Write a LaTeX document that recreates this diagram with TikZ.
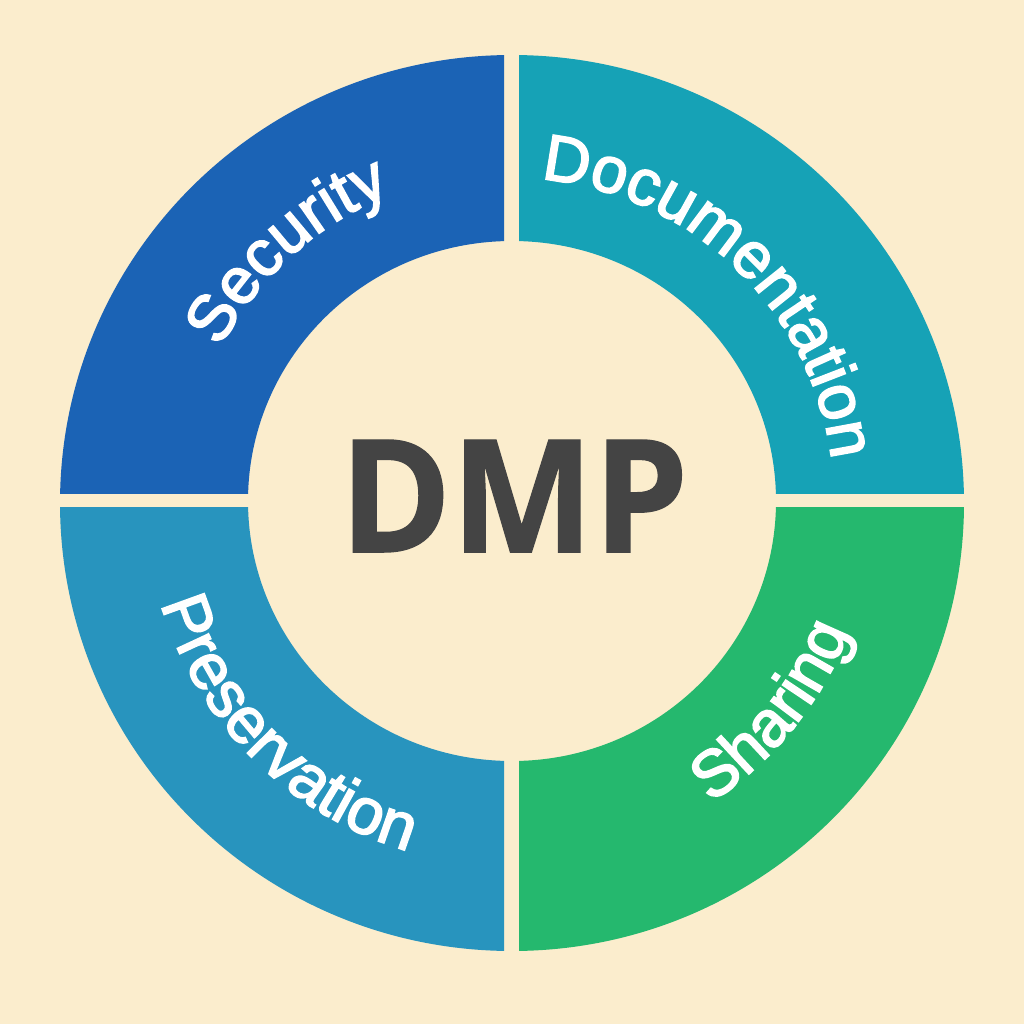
\documentclass[tikz,border=0pt]{standalone}
\usepackage{fontspec}
\setmainfont{Open Sans}
\newfontfamily\dmpfont{Open Sans}[BoldFeatures={FakeBold=0.9}]
\newfontfamily\labfont{Liberation Sans}[FakeBold=2.6]
\usetikzlibrary{decorations.text}
\definecolor{bgc}{HTML}{FBEDCD}
\definecolor{secc}{HTML}{1B63B5}
\definecolor{docc}{HTML}{16A2B6}
\definecolor{shac}{HTML}{25B86E}
\definecolor{prec}{HTML}{2894BE}
\definecolor{txtc}{HTML}{444444}
\newcommand{\ringshape}{(512,-503) ellipse [x radius=452,y radius=448] (512,-501) ellipse [x radius=264,y radius=260]}
\newcommand{\lab}{\labfont\fontsize{65}{65}\selectfont\color{white}}
\tikzset{x=1pt,y=1pt,
 lbl/.style={decorate,decoration={text along path,text align=center,text={|\lab|#1}}}}
\begin{document}
\begin{tikzpicture}
\fill[bgc] (0,0) rectangle (1024,-1024);
\useasboundingbox (0,0) rectangle (1024,-1024);
\begin{scope}\clip (0,0) rectangle (504,-493);\fill[secc,even odd rule] \ringshape;\end{scope}
\begin{scope}\clip (519,0) rectangle (1024,-493);\fill[docc,even odd rule] \ringshape;\end{scope}
\begin{scope}\clip (0,-507) rectangle (504,-1024);\fill[prec,even odd rule] \ringshape;\end{scope}
\begin{scope}\clip (519,-507) rectangle (1024,-1024);\fill[shac,even odd rule] \ringshape;\end{scope}
\node[text=txtc,font=\dmpfont\bfseries\fontsize{157}{157}\selectfont,inner sep=0pt,xscale=0.96] (dmp) at (514,-496) {DMP};
\path[lbl={Security}] (512,-500) ++(192:329) arc[start angle=192,end angle=72,radius=329];
\path[lbl={Documentation}] (512,-500) ++(106:322) arc[start angle=106,end angle=-14,radius=322];
\path[lbl={Sharing}] (512,-500) ++(-99:362) arc[start angle=-99,end angle=21,radius=362];
\path[lbl={Preservation}] (512,-500) ++(165:366) arc[start angle=165,end angle=285,radius=366];
\end{tikzpicture}
\end{document}
